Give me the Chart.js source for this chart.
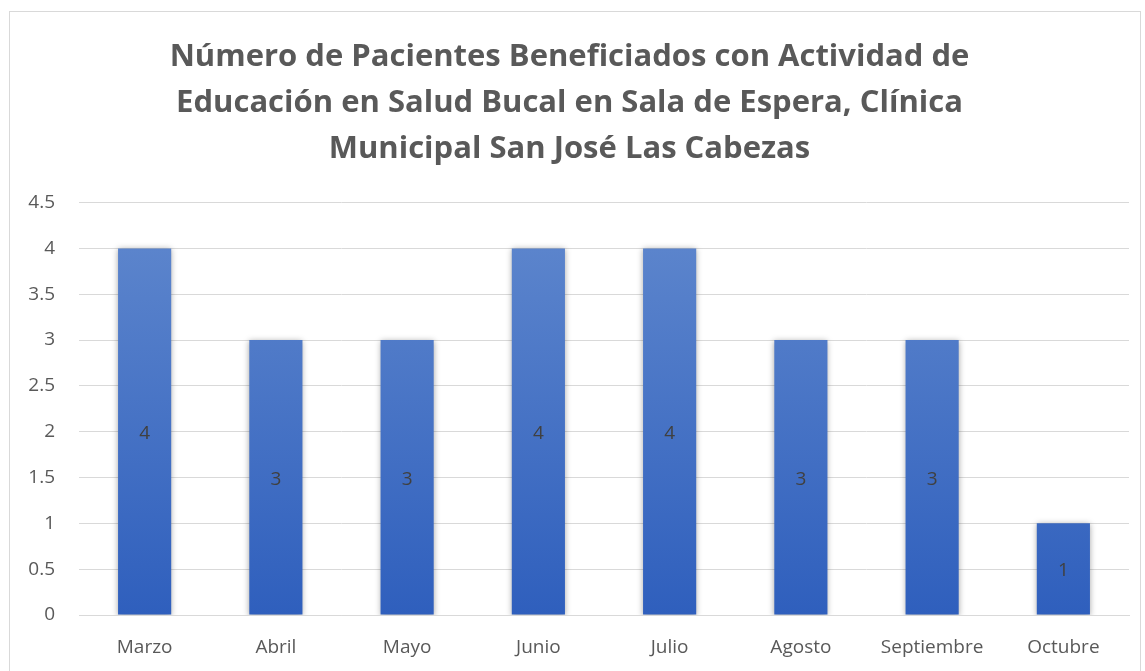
<!DOCTYPE html>
<html>
<head>
<meta charset="utf-8">
<script src="https://cdn.jsdelivr.net/npm/chart.js@4"></script>
<style>
  body { margin: 0; background: #fff; }
  #box { position: absolute; left: 9px; top: 11px; width: 1130px; height: 680px; border: 1px solid #d9d9d9; }
  canvas { display: block; }
</style>
</head>
<body>
<div id="box"><canvas id="myChart" width="1130" height="660"></canvas></div>
<script>
// data
const months = ["Marzo", "Abril", "Mayo", "Junio", "Julio", "Agosto", "Septiembre", "Octubre"];
const pacientes = [4, 3, 3, 4, 4, 3, 3, 1];
const titleLines = [
  "Número de Pacientes Beneficiados con Actividad de",
  "Educación en Salud Bucal en Sala de Espera, Clínica",
  "Municipal San José Las Cabezas"
];

const FONT = "'Open Sans', Lato, sans-serif";

// shadow behind the bars
const barShadow = {
  id: "barShadow",
  beforeDatasetsDraw(chart) {
    const c = chart.ctx;
    c.save();
    c.shadowColor = "rgba(0,0,0,0.35)";
    c.shadowBlur = 6;
    c.shadowOffsetX = 0;
    c.shadowOffsetY = 1;
  },
  afterDatasetsDraw(chart) {
    chart.ctx.restore();
  }
};

// value in middle of each bar
const midLabels = {
  id: "midLabels",
  afterDatasetsDraw(chart) {
    const c = chart.ctx;
    const meta = chart.getDatasetMeta(0);
    c.save();
    c.font = "19px " + FONT;
    c.fillStyle = "#404040";
    c.textAlign = "center";
    c.textBaseline = "middle";
    meta.data.forEach((bar, i) => {
      c.fillText(String(chart.data.datasets[0].data[i]), bar.x, (bar.y + bar.base) / 2 + 2);
    });
    c.restore();
  }
};

new Chart(document.getElementById("myChart").getContext("2d"), {
  type: "bar",
  data: {
    labels: months,
    datasets: [{
      label: "Pacientes",
      data: pacientes,
      backgroundColor: (ctx) => {
        const area = ctx.chart.chartArea;
        if (!area) return "#4472c4";
        const g = ctx.chart.ctx.createLinearGradient(0, area.top + 46, 0, area.bottom);
        g.addColorStop(0, "#5b84cc");
        g.addColorStop(1, "#2f5fbd");
        return g;
      },
      barPercentage: 0.81,
      categoryPercentage: 0.5
    }]
  },
  plugins: [barShadow, midLabels],
  options: {
    responsive: false,
    animation: false,
    layout: { padding: { left: 0, right: 11, top: 0, bottom: 0 } },
    plugins: {
      legend: { display: false },
      tooltip: { enabled: false },
      title: {
        display: true,
        text: titleLines,
        color: "#595959",
        font: { family: FONT, size: 31, weight: "bold", lineHeight: 1.48 },
        padding: { top: 22, bottom: 31 }
      }
    },
    scales: {
      x: {
        afterFit: (s) => { s.height = 57; },
        grid: { display: false, drawTicks: false },
        border: { color: "#d9d9d9", width: 1 },
        ticks: { color: "#595959", font: { family: FONT, size: 19 }, padding: 21 }
      },
      y: {
        min: 0,
        max: 4.5,
        afterFit: (s) => { s.width = 69; },
        grid: { color: "#d9d9d9", lineWidth: 1, drawTicks: false },
        border: { display: false },
        ticks: {
          stepSize: 0.5,
          color: "#595959",
          font: { family: FONT, size: 19 },
          padding: 24,
          callback: (v) => String(v)
        }
      }
    }
  }
});
</script>
</body>
</html>
